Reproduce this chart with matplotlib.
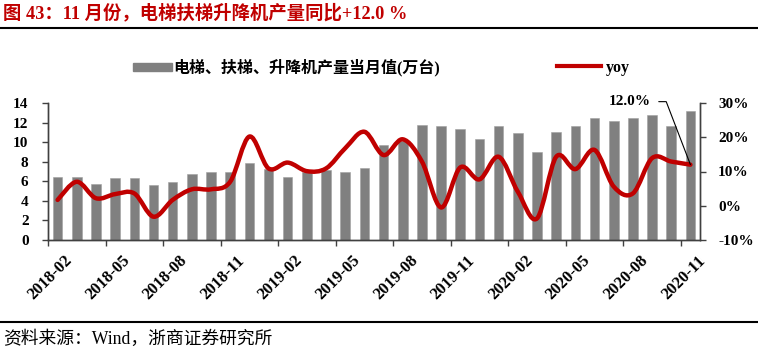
import numpy as np
import pandas as pd
import matplotlib
matplotlib.use('Agg')
import matplotlib.pyplot as plt
import matplotlib.transforms as mtransforms
from matplotlib.path import Path
from matplotlib.patches import PathPatch, Patch
from matplotlib.lines import Line2D

plt.rcParams['font.family'] = ['Liberation Serif', 'Noto Sans CJK SC']

# monthly data, 2018-02 .. 2020-11
months = [str(p) for p in pd.period_range('2018-02', '2020-11', freq='M')]
output = [6.4, 6.4, 5.75, 6.3, 6.3, 5.6, 5.9, 6.7, 6.9, 6.9, 7.85, 7.3,
          6.4, 6.9, 7.2, 6.9, 7.4, 9.7, 10.1, 11.75, 11.6, 11.3, 10.35, 11.6,
          10.9, 9.0, 11.05, 11.6, 12.45, 12.15, 12.45, 12.75, 11.6, 13.15]
yoy = [1.7, 7.0, 2.2, 3.4, 3.6, -3.2, 1.7, 4.8, 4.8, 7.0, 20.2, 10.9,
       12.6, 10.1, 10.9, 16.8, 21.6, 14.8, 19.4, 12.9, -0.5, 11.2, 7.7, 14.3,
       4.1, -3.7, 14.3, 10.7, 16.3, 5.6, 3.6, 13.9, 12.9, 12.0]
tick_every = 3

bar_color = '#808080'
line_color = '#C00000'


def smooth_path(x, y):
    # excel-like smoothed line (catmull-rom as bezier segments)
    verts = [(x[0], y[0])]
    codes = [Path.MOVETO]
    n = len(x)
    for i in range(n - 1):
        x0, y0 = (x[i - 1], y[i - 1]) if i > 0 else (x[i], y[i])
        x3, y3 = (x[i + 2], y[i + 2]) if i + 2 < n else (x[i + 1], y[i + 1])
        c1 = (x[i] + (x[i + 1] - x0) / 6, y[i] + (y[i + 1] - y0) / 6)
        c2 = (x[i + 1] - (x3 - x[i]) / 6, y[i + 1] - (y3 - y[i]) / 6)
        verts += [c1, c2, (x[i + 1], y[i + 1])]
        codes += [Path.CURVE4] * 3
    return Path(verts, codes)


fig = plt.figure(figsize=(7.58, 3.51), dpi=100)
ax = fig.add_axes([48 / 758, 1 - 240 / 351, 652 / 758, 137 / 351])
ax2 = ax.twinx()

x = np.arange(len(months))
ax.bar(x, output, width=0.5, color=bar_color, edgecolor='#a0a0a0', linewidth=0.4, zorder=2)
ax2.add_patch(PathPatch(smooth_path(x, yoy), fill=False, edgecolor=line_color,
                        lw=3.2, capstyle='round', joinstyle='round', zorder=3))

ax.set_xlim(-0.5, len(months) - 0.5)
ax.set_ylim(0, 14)
ax.set_yticks(np.arange(0, 15, 2))
ax2.set_ylim(-10, 30)
ax2.set_yticks(np.arange(-10, 31, 10))
ax2.set_yticklabels(['{:.0f}%'.format(v) for v in np.arange(-10, 31, 10)])

tick_pos = x[::tick_every] - 0.5
ax.set_xticks(tick_pos)
ax.set_xticklabels(months[::tick_every], rotation=45, ha='right', va='center',
                   rotation_mode='anchor')

for a in (ax, ax2):
    a.spines['top'].set_visible(False)
    for s in ('left', 'right', 'bottom'):
        a.spines[s].set_color('#404040')
        a.spines[s].set_linewidth(1.0)
    a.tick_params(axis='both', labelsize=11, length=4, width=1.0, color='#404040', direction='out')
    for lab in a.get_xticklabels() + a.get_yticklabels():
        lab.set_fontweight('bold')
ax.tick_params(axis='y', pad=10)
ax2.tick_params(axis='y', pad=9)
ax.tick_params(axis='x', pad=4, labelsize=12)

offset = mtransforms.ScaledTranslation(0.22, -0.07, fig.dpi_scale_trans)
for lab in ax.get_xticklabels():
    lab.set_transform(lab.get_transform() + offset)

# value label for last point
ax2.annotate('{:.1f}%'.format(yoy[-1]), xy=(x[-1], yoy[-1]), xytext=(-40, 63),
             textcoords='offset pixels', ha='right', va='center',
             fontsize=11, fontweight='bold',
             arrowprops=dict(arrowstyle='-', color='black', lw=0.8, shrinkA=4, shrinkB=0,
                             connectionstyle='angle,angleA=0,angleB=111,rad=0'))

# legends
leg1 = fig.legend(handles=[Patch(facecolor=bar_color, edgecolor=bar_color)],
                  labels=['电梯、扶梯、升降机产量当月值(万台)'],
                  loc='center left', bbox_to_anchor=(119 / 758, 1 - 68 / 351),
                  frameon=False, handlelength=2.4, handleheight=0.45,
                  handletextpad=0.1, prop=dict(size=11.5, weight='bold'))
leg2 = fig.legend(handles=[Line2D([], [], color=line_color, lw=3)], labels=['yoy'],
                  loc='center left', bbox_to_anchor=(543 / 758, 1 - 68 / 351),
                  frameon=False, handlelength=2.7, handletextpad=0.35,
                  prop=dict(size=11.5, weight='bold'))

# title, source and rules
fig.text(3 / 758, 1 - 13 / 351, '图 43：11 月份，电梯扶梯升降机产量同比+12.0 %',
         fontsize=13.2, fontweight='bold', color='#C00000', ha='left', va='center')
fig.add_artist(Line2D([0, 1], [1 - 27.7 / 351] * 2, color='black', lw=1.5))
fig.add_artist(Line2D([0, 1], [1 - 322 / 351] * 2, color='black', lw=1.5))
fig.text(3 / 758, 1 - 339 / 351, '资料来源：Wind，浙商证券研究所',
         fontsize=12.8, color='black', ha='left', va='center')

fig.savefig('out.png', dpi=100)
